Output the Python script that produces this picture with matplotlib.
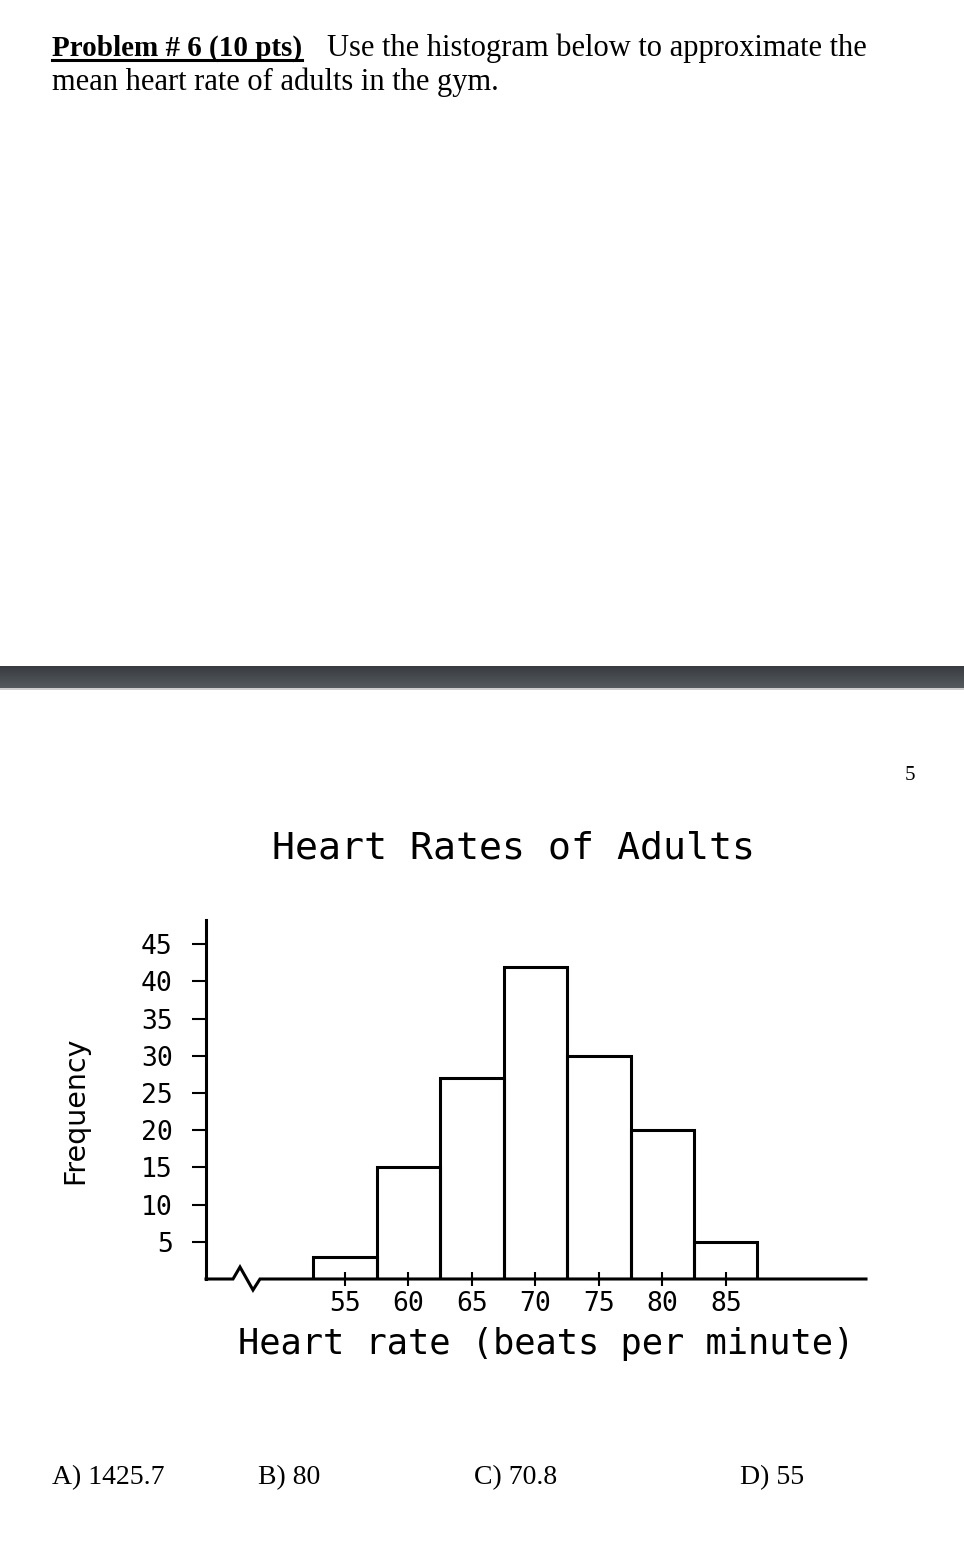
import numpy as np
import matplotlib
matplotlib.use("Agg")
import matplotlib.pyplot as plt
from matplotlib import font_manager
from matplotlib.lines import Line2D
from matplotlib.patches import Rectangle

# histogram
bin_centers = [55, 60, 65, 70, 75, 80, 85]
frequencies = [3, 15, 27, 42, 30, 20, 5]
bin_width = 5
y_ticks = [5, 10, 15, 20, 25, 30, 35, 40, 45]

chart_title = "Heart Rates of Adults"
x_label = "Heart rate (beats per minute)"
y_label = "Frequency"
question_head = "Problem # 6 (10 pts)"
question_line1 = "Use the histogram below to approximate the"
question_line2 = "mean heart rate of adults in the gym."
choices = ["A) 1425.7", "B) 80", "C) 70.8", "D) 55"]
page_number = "5"

W, H = 964, 1558
SERIF = ["Liberation Serif", "DejaVu Serif"]
MONO = ["DejaVu Sans Mono", "DejaVu Sans"]


def fx(x):
    return x / W


def fy(y):
    return 1 - y / H


fig = plt.figure(figsize=(W / 100, H / 100), dpi=100)

# question text
head = fig.text(fx(52), fy(56), question_head, family=SERIF, fontweight="bold",
                fontsize=21, va="baseline")
fig.canvas.draw()
bb = head.get_window_extent()
fig.add_artist(Line2D([bb.x0 / W, bb.x1 / W], [fy(59.5), fy(59.5)],
                      color="black", linewidth=2.2))
fig.text((bb.x1 + 25) / W, fy(56), question_line1, family=SERIF, fontsize=22,
         va="baseline")
fig.text(fx(52), fy(90), question_line2, family=SERIF, fontsize=22, va="baseline")

# dark page separator band
band = fig.add_axes([0, fy(688), 1, 22 / H])
grad = np.linspace(0, 1, 50).reshape(-1, 1)
band.imshow(grad, aspect="auto", cmap=matplotlib.colors.LinearSegmentedColormap.from_list(
    "band", ["#383c40", "#555a5e"]), extent=[0, 1, 0, 1])
band.axis("off")
fig.add_artist(Rectangle((0, fy(690)), 1, 2 / H, transform=fig.transFigure,
                         color="#cfcfcf", linewidth=0))

fig.text(fx(910), fy(775), page_number, family=SERIF, fontsize=15,
         ha="center", va="center")

# histogram
ax = fig.add_axes([fx(206), fy(1279), 660 / W, 359 / H])
ax.bar(bin_centers, frequencies, width=bin_width, fill=False,
       edgecolor="black", linewidth=2.2)
ax.set_xlim(44.05, 96.05)
ax.set_ylim(0, 48.25)

for s in ["top", "right", "bottom"]:
    ax.spines[s].set_visible(False)
ax.spines["left"].set_linewidth(2.2)

# baseline with the axis-break zigzag
bx = np.array([0, 27, 34, 47, 54, 660]) / 660
by = np.array([0, 0, 12, -11, 0, 0]) / 359
ax.plot(bx, by, transform=ax.transAxes, color="black", linewidth=2.2,
        clip_on=False, solid_joinstyle="miter")

ax.set_yticks(y_ticks)
ax.set_xticks(bin_centers)
ax.tick_params(axis="y", direction="out", length=10, width=1.5, pad=14,
               labelsize=19, labelfontfamily=MONO)
ax.tick_params(axis="x", direction="inout", length=9.5, width=1.5, pad=4,
               labelsize=19, labelfontfamily=MONO)

fig.text(fx(513), fy(848), chart_title, family=MONO, fontsize=27.5,
         ha="center", va="center")

ax.set_xlabel(x_label, family=MONO, fontsize=25.5, va="center")
ax.xaxis.set_label_coords(0.515, -0.181)

names = {f.name for f in font_manager.fontManager.ttflist}
if "Liberation Sans Narrow" in names:
    ylab_font, ylab_size = ["Liberation Sans Narrow", "DejaVu Sans"], 27
else:
    ylab_font, ylab_size = ["DejaVu Sans"], 20.5
ax.set_ylabel(y_label, family=ylab_font, fontsize=ylab_size, va="center")
ax.yaxis.set_label_coords(-0.198, 0.471)

# answer choices
choice_x = [52, 258, 474, 740]
for cx, label in zip(choice_x, choices):
    fig.text(fx(cx), fy(1484), label, family=SERIF, fontsize=20, va="baseline")

fig.savefig("out.png", dpi=100)
